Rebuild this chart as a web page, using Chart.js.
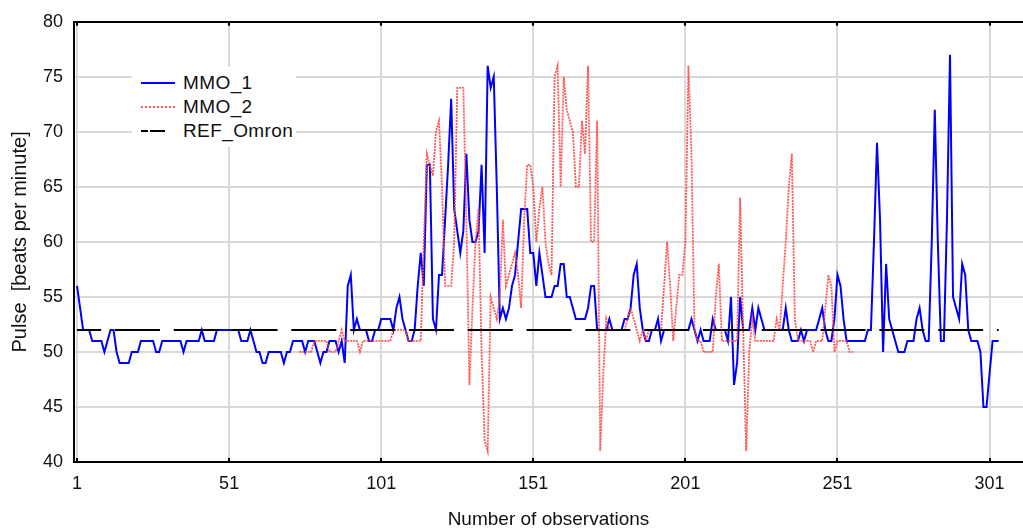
<!DOCTYPE html>
<html>
<head>
<meta charset="utf-8">
<title>Pulse - MMO vs Omron</title>
<script src="https://cdn.jsdelivr.net/npm/chart.js@4.4.0/dist/chart.umd.min.js"></script>
<style>
  html, body { margin: 0; padding: 0; background: #fff; overflow: hidden; }
  #wrap { position: relative; width: 1023px; height: 529px; }
  #legend {
    position: absolute; left: 132px; top: 67px; width: 164px; height: 80px;
    background: #fff; color: #111;
    font-family: "Liberation Sans", Arial, sans-serif; font-size: 19px;
  }
  .item { position: absolute; left: 0; width: 164px; height: 24px; line-height: 24px; }
  .swatch { position: absolute; left: 9px; top: 11px; width: 34px; height: 2px; }
  .txt { position: absolute; left: 51px; top: 0; letter-spacing: 0.4px; white-space: nowrap; }
</style>
</head>
<body>
<div id="wrap">
  <canvas id="pulseChart" width="1023" height="529"></canvas>
  <div id="legend">
    <div class="item" style="top:4px">
      <div class="swatch" style="background:#0000ff"></div><span class="txt">MMO_1</span>
    </div>
    <div class="item" style="top:28px">
      <div class="swatch" style="height:0;top:11px;border-top:2px dotted #ff5a5a"></div><span class="txt">MMO_2</span>
    </div>
    <div class="item" style="top:52px">
      <div class="swatch" style="width:24px;background:linear-gradient(to right,#000 0 7px,transparent 7px 9px,#000 9px 24px)"></div><span class="txt">REF_Omron</span>
    </div>
  </div>
</div>

<script>
// observations start at 1
const mmo1 = [
  56,54,52,52,52,51,51,51,51,50,   // 1-10
  51,52,52,50,49,49,49,49,50,50,
  50,51,51,51,51,51,50,50,51,51,
  51,51,51,51,51,50,51,51,51,51,
  51,52,51,51,51,51,52,52,52,52,
  52,52,52,52,51,51,51,52,51,50,   // 51-60
  50,49,49,50,50,50,50,50,49,50,
  50,51,51,51,51,50,51,51,51,50,
  49,50,50,51,51,51,50,51,49,56,
  57,52,53,52,52,52,51,51,52,52,
  53,53,53,53,52,54,55,53,52,51,   // 101-110
  51,52,56,59,56,67,67,53,52,57,
  57,62,67,73,63,61,59,61,68,62,
  60,60,61,67,59,76,74,75,65,53,
  54,53,54,56,57,60,63,63,63,59,
  59,56,59,57,55,55,55,56,56,58,   // 151-160
  58,55,55,54,53,53,53,53,54,56,
  56,52,52,52,52,53,52,52,52,52,
  53,53,54,57,58,54,52,51,51,52,
  52,53,51,52,52,52,52,52,52,52,
  52,52,53,52,51,52,51,51,51,53,   // 201-210
  52,52,52,52,51,55,47,49,55,52,
  52,52,54,52,54,53,52,52,52,52,
  52,52,52,54,52,51,51,51,52,51,
  52,52,52,52,53,54,52,51,51,53,
  57,56,53,51,51,51,51,51,51,51,   // 251-260
  52,52,60,69,62,50,58,53,52,51,
  50,50,50,51,51,51,53,54,52,51,
  51,60,72,60,51,51,62,77,55,54,
  53,58,57,52,51,51,51,50,45,45,
  48,51,51,51                      // 301-304
];

// MMO_2 only recorded from observation 74 on
const mmo2Start = 74;
const mmo2 = [
  50,50,50,50,50,51,51,51,51,51,   // 74-83
  50,50,50,51,52,51,51,51,51,51,
  50,51,51,51,51,51,51,51,51,51,
  51,52,52,52,52,52,51,51,51,51,
  51,60,68,67,66,70,71,65,56,56,   // 114-123
  56,60,74,74,74,62,47,54,60,63,
  50,42,41,55,54,53,55,62,56,57,
  58,59,57,54,62,67,67,65,60,63,
  65,60,58,57,75,76,65,75,72,71,   // 154-163
  70,65,65,71,68,76,60,60,71,41,
  48,53,52,52,52,52,52,52,53,54,
  53,52,51,52,51,52,52,52,52,52,
  56,60,56,51,54,57,57,60,76,68,   // 194-203
  52,51,51,50,50,50,50,55,58,51,
  51,51,51,51,51,64,52,41,50,53,
  51,51,51,51,51,51,51,53,52,56,
  60,65,68,53,51,51,51,51,51,50,   // 234-243
  51,51,51,54,57,56,50,51,51,51,
  51,50,50                         // 254-256
];

// reference device, one value over the whole run
const refOmronX = [1, 304];
const refOmronY = [52, 52];

const xTicks = [1, 51, 101, 151, 201, 251, 301];
const yTicks = [40, 45, 50, 55, 60, 65, 70, 75, 80];

const fontFamily = '"Liberation Sans", Arial, sans-serif';
const gridGray = '#d9d9d9';

const mmo1Points = mmo1.map((v, i) => ({ x: i + 1, y: v }));
const mmo2Points = mmo2.map((v, i) => ({ x: mmo2Start + i, y: v }));
const refPoints = refOmronX.map((x, i) => ({ x: x, y: refOmronY[i] }));

// small inward tick marks on the bottom axis and the top frame
const innerTicks = {
  id: 'innerTicks',
  afterDraw(chart) {
    const c = chart.ctx;
    const area = chart.chartArea;
    const xs = chart.scales.x;
    c.save();
    c.strokeStyle = '#000';
    c.lineWidth = 2;
    xTicks.forEach(v => {
      const px = Math.round(xs.getPixelForValue(v));
      c.beginPath();
      c.moveTo(px, area.bottom);
      c.lineTo(px, area.bottom - 4);
      c.moveTo(px, area.top);
      c.lineTo(px, area.top + 4);
      c.stroke();
    });
    c.restore();
  }
};

const ctx = document.getElementById('pulseChart');

new Chart(ctx, {
  type: 'line',
  data: {
    datasets: [
      {
        label: 'REF_Omron',
        data: refPoints,
        borderColor: '#000',
        borderWidth: 2,
        borderDash: [45, 13.8],
        borderDashOffset: 20.9,
        pointRadius: 0,
        order: 0
      },
      {
        label: 'MMO_2',
        data: mmo2Points,
        borderColor: 'rgba(255, 70, 70, 0.9)',
        borderWidth: 1.8,
        borderDash: [2, 1],
        pointRadius: 0,
        order: 1
      },
      {
        label: 'MMO_1',
        data: mmo1Points,
        borderColor: '#0000ff',
        borderWidth: 2,
        pointRadius: 0,
        order: 2
      }
    ]
  },
  options: {
    responsive: false,
    animation: false,
    devicePixelRatio: 1,
    layout: { padding: { top: 17, right: 0, bottom: 0, left: 0 } },
    plugins: {
      legend: { display: false },
      tooltip: { enabled: false }
    },
    elements: { line: { tension: 0 } },
    scales: {
      x: {
        type: 'linear',
        min: 0,
        max: 312,
        afterBuildTicks: (scale) => { scale.ticks = xTicks.map(v => ({ value: v })); },
        afterFit: (scale) => { scale.height = 67; },
        ticks: {
          font: { family: fontFamily, size: 18 },
          color: '#111',
          padding: 11,
          maxRotation: 0,
          autoSkip: false
        },
        grid: { color: gridGray, lineWidth: 2, drawTicks: false },
        border: { color: '#000', width: 2 },
        title: {
          display: true,
          text: 'Number of observations',
          font: { family: fontFamily, size: 19, lineHeight: 1 },
          color: '#111',
          padding: { top: 0, bottom: 0 }
        }
      },
      y: {
        min: 40,
        max: 80,
        afterBuildTicks: (scale) => { scale.ticks = yTicks.map(v => ({ value: v })); },
        afterFit: (scale) => { scale.width = 74; },
        ticks: {
          font: { family: fontFamily, size: 18 },
          color: '#111',
          padding: 11
        },
        grid: {
          color: (c) => (c.tick && c.tick.value === 80 ? '#000' : gridGray),
          lineWidth: 2,
          drawTicks: false
        },
        border: { color: '#000', width: 2 },
        title: {
          display: true,
          text: 'Pulse  [beats per minute]',
          font: { family: fontFamily, size: 20 },
          color: '#111',
          padding: { top: 8, bottom: 0 }
        }
      }
    }
  },
  plugins: [innerTicks]
});
</script>
</body>
</html>
